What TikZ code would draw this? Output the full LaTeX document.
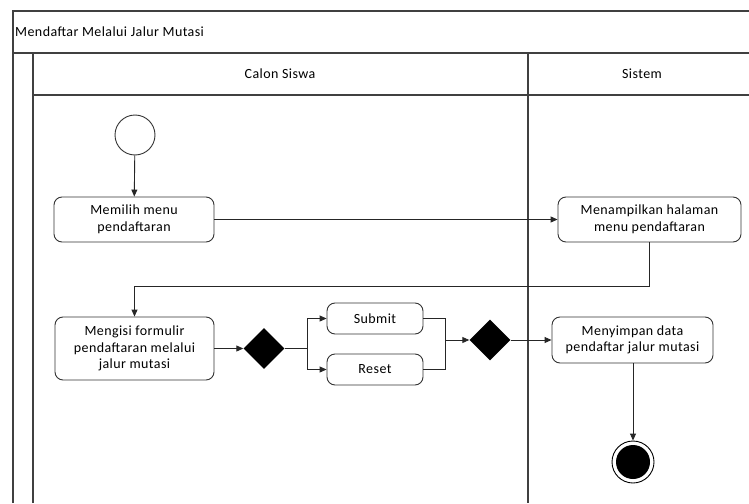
\documentclass[tikz,border=0pt]{standalone}
\usepackage{fontspec}
\setmainfont{Carlito}[LetterSpace=3]
\usetikzlibrary{shapes.geometric,arrows.meta}
\begin{document}
\begin{tikzpicture}[x=1pt,y=-1pt,
  every node/.style={font=\fontsize{14}{16.5}\selectfont},
  lane/.style={draw=black!75, line width=1.3pt},
  act/.style={draw=black!80, line width=0.9pt, rounded corners=8pt, align=center, inner sep=0pt, fill=white},
  decision/.style={diamond, fill=black, inner sep=0pt, minimum size=41pt, aspect=1},
  initial/.style={circle, draw=black!80, line width=0.9pt, minimum size=40pt, inner sep=0pt},
  final/.style={circle, draw=black, line width=0.9pt, minimum size=42pt, inner sep=0pt,
    path picture={\fill[black] (path picture bounding box.center) circle (17pt);}},
  flow/.style={draw=black!85, line width=0.9pt},
  arr/.style={flow, -{Triangle[length=7pt,width=6pt]}}]
\useasboundingbox (0,0) rectangle (749,503);
\fill[white] (0,0) rectangle (749,503);

% swimlane frame
\draw[lane] (13,503) -- (13,11) -- (749,11);
\draw[lane] (13,53) -- (749,53);
\draw[lane] (33,503) -- (33,53);
\draw[lane] (33,95) -- (749,95);
\draw[lane] (528,53) -- (528,503);
\node[anchor=west, inner sep=0pt] (title) at (15,32) {Mendaftar Melalui Jalur Mutasi};
\node (laneA) at (280,74) {Calon Siswa};
\node (laneB) at (642,74) {Sistem};

% activities
\node[initial] (init) at (135,135) {};
\node[act, minimum width=160pt, minimum height=45pt] (memilih) at (134,219.5) {Memilih menu\\pendaftaran};
\node[act, minimum width=183pt, minimum height=45pt] (menampilkan) at (649.5,219.5) {Menampilkan halaman\\menu pendaftaran};
\node[act, minimum width=159pt, minimum height=63pt] (mengisi) at (134.5,348.5) {Mengisi formulir\\pendaftaran melalui\\jalur mutasi};
\node[decision] (dec1) at (264,348.5) {};
\node[act, minimum width=96pt, minimum height=31pt] (submit) at (375,318.5) {Submit};
\node[act, minimum width=96pt, minimum height=31pt] (reset) at (375,369.5) {Reset};
\node[decision] (dec2) at (490,340) {};
\node[act, minimum width=161pt, minimum height=46pt] (menyimpan) at (632.5,340) {Menyimpan data\\pendaftar jalur mutasi};
\node[final] (final) at (633,462) {};

% control flow
\coordinate (turn) at (649,286);
\coordinate (fork) at (307,348.5);
\coordinate (join) at (445,340);
\draw[arr] (init) -- (memilih);
\draw[arr] (memilih) -- (menampilkan);
\draw[arr] (menampilkan.south -| turn) -- (turn) -| (mengisi.north);
\draw[arr] (mengisi) -- (dec1);
\draw[flow] (dec1.east) -- (fork);
\draw[arr] (fork) |- (submit.west);
\draw[arr] (fork) |- (reset.west);
\draw[flow] (submit.east) -| (join);
\draw[flow] (reset.east) -| (join);
\draw[arr] (join) -- (dec2.west);
\draw[arr] (dec2) -- (menyimpan);
\draw[arr] (menyimpan.south -| final) -- (final);
\end{tikzpicture}
\end{document}
